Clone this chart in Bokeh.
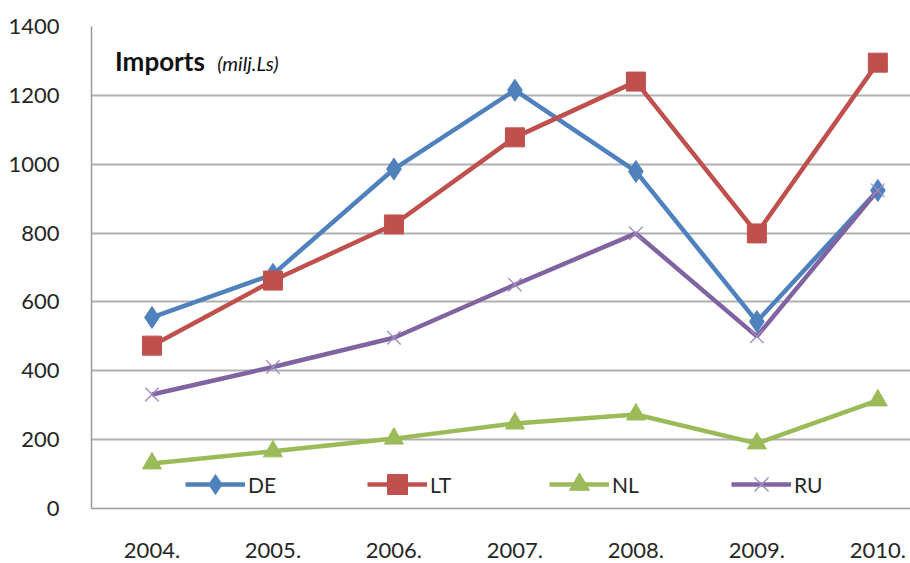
from bokeh.plotting import figure
from bokeh.models import Range1d, FixedTicker, Label, Legend
from bokeh.embed import file_html
from bokeh.resources import INLINE

years = ["2004.", "2005.", "2006.", "2007.", "2008.", "2009.", "2010."]
de = [555, 680, 986, 1215, 979, 543, 924]
lt = [473, 662, 825, 1078, 1240, 799, 1295]
nl = [131, 166, 203, 247, 273, 189, 314]
ru = [331, 411, 496, 650, 799, 500, 924]
y_ticks = [0, 200, 400, 600, 800, 1000, 1200, 1400]

xs = list(range(len(years)))
FONT = "Lato"

p = figure(width=910, height=563, output_backend="svg", toolbar_location=None,
           x_range=Range1d(-0.5, 6.27), y_range=Range1d(0, 1400),
           min_border_left=91, min_border_right=0, min_border_top=26, min_border_bottom=55)
p.outline_line_color = None
p.background_fill_color = "white"
p.border_fill_color = "white"

# grid
p.xgrid.grid_line_color = None
p.ygrid.grid_line_color = "#b0b0b0"
p.ygrid.grid_line_width = 2
p.ygrid.ticker = FixedTicker(ticks=y_ticks)

# axes
p.yaxis.ticker = FixedTicker(ticks=y_ticks)
p.xaxis.ticker = FixedTicker(ticks=xs)
p.xaxis.major_label_overrides = {i: y for i, y in enumerate(years)}
for ax in (p.xaxis[0], p.yaxis[0]):
    ax.axis_line_color = "#9a9a9a"
    ax.axis_line_width = 1.5
    ax.major_tick_line_color = None
    ax.minor_tick_line_color = None
    ax.major_label_text_font = FONT
    ax.major_label_text_font_size = "22px"
    ax.major_label_text_color = "#262626"
p.yaxis.major_label_standoff = 26
p.xaxis.major_label_standoff = 28

series = [
    ("DE", de, "#4F81BD", "diamond", 22, "#4F81BD", 1),
    ("LT", lt, "#C0504D", "square", 19, "#C0504D", 1),
    ("NL", nl, "#9BBB59", "triangle", 19, "#9BBB59", 1),
    ("RU", ru, "#8064A2", "x", 19, "#9F8CC0", 1.3),
]
items = []
for name, vals, col, mk, sz, mcol, mlw in series:
    r1 = p.line(xs, vals, line_color=col, line_width=4.5)
    r2 = p.scatter(xs, vals, marker=mk, size=sz, fill_color=col, line_color=mcol, line_width=mlw)
    items.append((name, [r1, r2]))

legend = Legend(items=items, orientation="horizontal", location=(94, -1))
legend.background_fill_alpha = 0
legend.border_line_color = None
legend.padding = 0
legend.margin = 0
legend.glyph_width = 60
legend.glyph_height = 50
legend.label_width = 100
legend.label_standoff = 3
legend.spacing = 19
legend.label_text_font = FONT
legend.label_text_font_size = "21px"
legend.label_text_color = "#262626"
p.add_layout(legend, "center")

p.add_layout(Label(x=-0.305, y=1301, text="Imports", text_font=FONT, text_font_style="bold",
                   text_font_size="26px", text_baseline="middle", text_color="#111111"))
p.add_layout(Label(x=0.54, y=1294, text="(milj.Ls)", text_font=FONT, text_font_style="italic",
                   text_font_size="20px", text_baseline="middle", text_color="#111111"))

open("out.html", "w").write(file_html(p, INLINE))
